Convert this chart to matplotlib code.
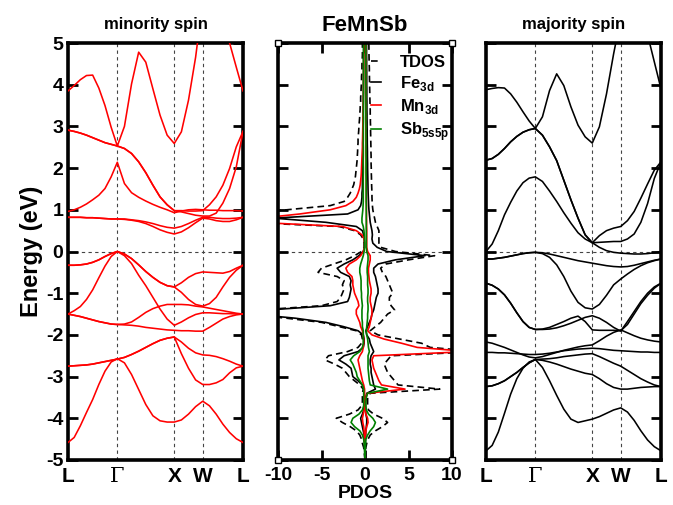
import numpy as np
import matplotlib
matplotlib.use("Agg")
from matplotlib import pyplot as plt

plt.rcParams['font.family'] = ['Liberation Sans', 'DejaVu Sans']
plt.rcParams['font.weight'] = 'bold'
plt.rcParams['mathtext.fontset'] = 'custom'
plt.rcParams['mathtext.rm'] = 'Liberation Sans:bold'
plt.rcParams['mathtext.bf'] = 'Liberation Sans:bold'

# high symmetry path L-G-X-W-L (2pi/a units) and k samples per segment
k_labels = ['L', 'Γ', 'X', 'W', 'L']
k_nodes = [0.0, 0.866, 1.866, 2.366, 3.073]
seg_points = [8, 8, 4, 6]

# minority spin bands (eV), 27 samples along the path
minority_bands = [
    [-4.58, -4.46, -4.18, -3.86, -3.55, -3.19, -2.87, -2.65, -2.57, -2.67, -2.95, -3.31, -3.67, -3.94, -4.06, -4.09, -4.09, -4.04, -3.9, -3.72, -3.59, -3.7, -3.9, -4.14, -4.34, -4.49, -4.58],
    [-2.75, -2.74, -2.73, -2.72, -2.7, -2.67, -2.64, -2.61, -2.58, -2.54, -2.47, -2.39, -2.3, -2.21, -2.13, -2.08, -2.05, -2.45, -2.8, -3.08, -3.19, -3.19, -3.15, -3.07, -2.91, -2.79, -2.75],
    [-2.75, -2.74, -2.73, -2.72, -2.7, -2.67, -2.64, -2.61, -2.58, -2.54, -2.47, -2.39, -2.3, -2.21, -2.13, -2.08, -2.05, -2.17, -2.32, -2.43, -2.48, -2.49, -2.52, -2.57, -2.63, -2.7, -2.75],
    [-0.33, -0.33, -0.32, -0.3, -0.26, -0.2, -0.12, -0.05, 0.0, -0.06, -0.17, -0.32, -0.48, -0.62, -0.74, -0.82, -0.85, -0.75, -0.62, -0.53, -0.49, -0.5, -0.51, -0.52, -0.48, -0.4, -0.33],
    [-0.33, -0.33, -0.32, -0.3, -0.26, -0.2, -0.12, -0.05, 0.0, -0.06, -0.17, -0.32, -0.48, -0.62, -0.74, -0.82, -0.85, -0.98, -1.15, -1.27, -1.31, -1.25, -1.1, -0.85, -0.62, -0.45, -0.33],
    [-1.5, -1.42, -1.32, -1.15, -0.92, -0.63, -0.35, -0.12, 0.0, -0.1, -0.29, -0.57, -0.82, -1.1, -1.38, -1.62, -1.77, -1.69, -1.59, -1.51, -1.47, -1.47, -1.48, -1.49, -1.49, -1.5, -1.5],
    [-1.5, -1.53, -1.56, -1.6, -1.64, -1.68, -1.71, -1.74, -1.75, -1.74, -1.69, -1.58, -1.46, -1.37, -1.31, -1.27, -1.27, -1.27, -1.28, -1.31, -1.33, -1.36, -1.39, -1.42, -1.45, -1.48, -1.5],
    [-1.5, -1.53, -1.56, -1.6, -1.64, -1.68, -1.71, -1.74, -1.75, -1.76, -1.77, -1.79, -1.82, -1.84, -1.86, -1.88, -1.89, -1.9, -1.9, -1.91, -1.91, -1.82, -1.72, -1.62, -1.56, -1.52, -1.5],
    [0.82, 0.82, 0.82, 0.81, 0.81, 0.8, 0.79, 0.78, 0.78, 0.77, 0.75, 0.72, 0.67, 0.6, 0.52, 0.46, 0.42, 0.47, 0.57, 0.69, 0.8, 0.78, 0.74, 0.72, 0.72, 0.76, 0.82],
    [0.82, 0.82, 0.82, 0.81, 0.81, 0.8, 0.79, 0.78, 0.78, 0.78, 0.76, 0.74, 0.71, 0.67, 0.62, 0.58, 0.56, 0.6, 0.67, 0.75, 0.82, 0.82, 0.8, 0.79, 0.79, 0.8, 0.82],
    [0.96, 1.0, 1.06, 1.14, 1.24, 1.35, 1.51, 1.79, 2.14, 1.63, 1.41, 1.3, 1.21, 1.13, 1.06, 1.0, 0.93, 0.97, 1.0, 1.01, 1.0, 0.99, 0.99, 0.98, 0.98, 0.98, 0.97],
    [2.91, 2.88, 2.84, 2.79, 2.73, 2.67, 2.61, 2.57, 2.53, 2.47, 2.35, 2.15, 1.89, 1.59, 1.31, 1.12, 0.98, 0.98, 0.97, 0.97, 0.98, 1.12, 1.31, 1.59, 1.99, 2.51, 2.88],
    [2.91, 2.88, 2.84, 2.79, 2.73, 2.67, 2.61, 2.57, 2.53, 2.47, 2.35, 2.15, 1.89, 1.59, 1.31, 1.12, 0.98, 0.95, 0.91, 0.87, 0.85, 0.85, 0.92, 1.16, 1.51, 2.03, 2.88],
    [3.85, 3.98, 4.12, 4.22, 4.23, 3.92, 3.5, 2.98, 2.53, 3.0, 4.02, 4.78, 4.54, 3.9, 3.27, 2.79, 2.59, 2.87, 3.63, 4.66, 6.0, 6.6, 6.6, 6.0, 5.0, 4.42, 3.85],
]

# majority spin bands
majority_bands = [
    [-4.78, -4.65, -4.33, -3.88, -3.42, -3.05, -2.8, -2.65, -2.59, -2.78, -3.1, -3.45, -3.78, -4.02, -4.1, -4.06, -4.02, -3.96, -3.88, -3.8, -3.75, -3.85, -4.05, -4.3, -4.52, -4.68, -4.78],
    [-3.24, -3.22, -3.17, -3.1, -3.0, -2.9, -2.78, -2.67, -2.59, -2.61, -2.65, -2.7, -2.76, -2.82, -2.87, -2.92, -2.95, -3.05, -3.17, -3.26, -3.3, -3.3, -3.28, -3.26, -3.25, -3.24, -3.24],
    [-3.24, -3.22, -3.17, -3.1, -3.0, -2.9, -2.78, -2.67, -2.59, -2.58, -2.57, -2.55, -2.52, -2.5, -2.48, -2.46, -2.45, -2.52, -2.6, -2.68, -2.75, -2.85, -2.95, -3.05, -3.13, -3.2, -3.24],
    [-2.42, -2.42, -2.43, -2.43, -2.44, -2.45, -2.46, -2.47, -2.47, -2.46, -2.44, -2.41, -2.38, -2.36, -2.34, -2.33, -2.32, -2.33, -2.35, -2.37, -2.38, -2.39, -2.4, -2.41, -2.41, -2.42, -2.42],
    [-2.17, -2.2, -2.25, -2.3, -2.36, -2.42, -2.48, -2.53, -2.55, -2.52, -2.47, -2.42, -2.37, -2.33, -2.29, -2.26, -2.24, -2.14, -2.03, -1.94, -1.88, -1.95, -2.02, -2.08, -2.12, -2.15, -2.17],
    [-0.76, -0.81, -0.9, -1.04, -1.24, -1.47, -1.68, -1.82, -1.87, -1.87, -1.86, -1.83, -1.78, -1.72, -1.65, -1.58, -1.54, -1.6, -1.7, -1.82, -1.91, -1.68, -1.44, -1.2, -1.0, -0.85, -0.76],
    [-0.76, -0.81, -0.9, -1.04, -1.24, -1.47, -1.68, -1.82, -1.87, -1.86, -1.82, -1.75, -1.68, -1.6, -1.55, -1.68, -1.88, -1.89, -1.89, -1.89, -1.9, -1.75, -1.5, -1.25, -1.05, -0.88, -0.76],
    [-0.18, -0.18, -0.16, -0.14, -0.11, -0.08, -0.05, -0.03, -0.02, -0.05, -0.14, -0.32, -0.6, -0.95, -1.22, -1.35, -1.38, -1.27, -1.05, -0.8, -0.66, -0.54, -0.43, -0.34, -0.27, -0.22, -0.18],
    [-0.18, -0.18, -0.16, -0.14, -0.11, -0.08, -0.05, -0.03, -0.02, -0.03, -0.06, -0.1, -0.14, -0.18, -0.22, -0.25, -0.28, -0.31, -0.34, -0.36, -0.37, -0.36, -0.33, -0.29, -0.25, -0.21, -0.18],
    [0.0, 0.18, 0.5, 0.88, 1.18, 1.45, 1.65, 1.76, 1.79, 1.68, 1.45, 1.2, 0.93, 0.68, 0.45, 0.3, 0.21, 0.1, 0.02, -0.02, -0.04, -0.05, -0.06, -0.06, -0.05, -0.03, 0.0],
    [2.19, 2.23, 2.33, 2.47, 2.63, 2.76, 2.86, 2.92, 2.95, 2.79, 2.51, 2.18, 1.71, 1.24, 0.8, 0.4, 0.21, 0.38, 0.5, 0.56, 0.6, 0.74, 0.96, 1.28, 1.62, 1.95, 2.15],
    [2.19, 2.23, 2.33, 2.47, 2.63, 2.76, 2.86, 2.92, 2.95, 2.79, 2.51, 2.18, 1.71, 1.24, 0.8, 0.4, 0.21, 0.22, 0.23, 0.24, 0.24, 0.3, 0.42, 0.7, 1.15, 1.75, 2.15],
    [3.88, 3.91, 3.93, 3.92, 3.78, 3.58, 3.35, 3.13, 2.95, 3.23, 3.86, 4.26, 3.98, 3.47, 3.03, 2.75, 2.6, 2.99, 3.78, 4.74, 5.6, 6.3, 6.5, 6.1, 5.2, 4.55, 3.9],
]

# PDOS, energy grid -5..5 eV in 0.1 steps (101 values each)
dos_energy = np.round(np.arange(-5.0, 5.01, 0.1), 2)

# minority (drawn to the left)
tdos_dn = [0.0, 0.05, 0.1, 0.15, 0.3, 0.4, 0.6, 1.0, 1.7, 2.6,
           3.3, 1.8, 0.8, 0.4, 0.3, 0.3, 0.3, 0.2, 0.6, 1.2,
           1.8, 2.2, 2.6, 3.5, 4.6, 4.2, 2.0, 0.8, 0.4, 0.3,
           0.4, 1.0, 3.0, 5.0, 9.0, 14, 12, 5.0, 3.2, 2.8,
           2.6, 2.4, 2.6, 2.4, 3.2, 5.4, 5.0, 3.6, 2.2, 1.2,
           0.4, 0.1, 0.1, 0.2, 0.5, 1.2, 3.0, 14, 14, 14,
           9.0, 4.0, 2.4, 2.0, 1.7, 1.5, 1.3, 1.2, 1.1, 1.05,
           1.0, 0.95, 0.9, 0.88, 0.85, 0.84, 0.8, 0.8, 0.76, 0.72,
           0.7, 0.66, 0.62, 0.6, 0.56, 0.55, 0.5, 0.5, 0.46, 0.45,
           0.42, 0.4, 0.4, 0.36, 0.35, 0.35, 0.32, 0.3, 0.3, 0.3, 0.3]
fe_dn = [0.0, 0.0, 0.02, 0.03, 0.05, 0.08, 0.1, 0.2, 0.3, 0.4,
         0.5, 0.3, 0.15, 0.1, 0.1, 0.1, 0.1, 0.1, 0.3, 0.8,
         1.4, 1.5, 1.6, 2.2, 3.0, 2.4, 0.8, 0.2, 0.1, 0.1,
         0.2, 0.8, 2.5, 4.5, 8.0, 13, 11, 4.0, 2.0, 1.8,
         1.7, 1.6, 1.7, 1.6, 1.8, 2.8, 3.2, 2.4, 1.4, 0.7,
         0.2, 0.05, 0.05, 0.1, 0.15, 0.3, 1.0, 4.5, 10.5, 2.0,
         0.8, 0.5, 0.4, 0.35, 0.35, 0.3, 0.3, 0.3, 0.28, 0.28,
         0.26, 0.26, 0.25, 0.25, 0.24, 0.24, 0.23, 0.23, 0.22, 0.22,
         0.21, 0.21, 0.2, 0.2, 0.2, 0.2, 0.19, 0.19, 0.18, 0.18,
         0.18, 0.17, 0.17, 0.17, 0.16, 0.16, 0.16, 0.15, 0.15, 0.15, 0.15]
mn_dn = [0.0, 0.0, 0.0, 0.02, 0.03, 0.05, 0.08, 0.1, 0.15, 0.25,
         0.3, 0.2, 0.1, 0.05, 0.05, 0.05, 0.05, 0.05, 0.15, 0.3,
         0.4, 0.5, 0.6, 0.7, 0.8, 0.6, 0.3, 0.2, 0.15, 0.15,
         0.2, 0.3, 0.5, 0.6, 0.8, 1.0, 1.0, 0.7, 0.8, 1.0,
         1.2, 1.3, 1.4, 1.4, 1.5, 2.0, 2.2, 1.8, 1.0, 0.5,
         0.2, 0.05, 0.05, 0.1, 0.35, 1.0, 2.6, 12.5, 12, 7.5,
         4.0, 2.2, 1.4, 1.0, 0.8, 0.65, 0.55, 0.5, 0.45, 0.42,
         0.4, 0.38, 0.36, 0.34, 0.32, 0.3, 0.3, 0.28, 0.27, 0.26,
         0.25, 0.24, 0.23, 0.22, 0.21, 0.2, 0.2, 0.19, 0.18, 0.18,
         0.17, 0.17, 0.16, 0.16, 0.15, 0.15, 0.15, 0.14, 0.14, 0.13, 0.13]
sb_dn = [0.02, 0.03, 0.05, 0.07, 0.1, 0.15, 0.3, 0.6, 1.2, 1.6,
         1.4, 0.7, 0.3, 0.15, 0.15, 0.15, 0.15, 0.15, 0.3, 0.6,
         0.9, 1.0, 1.2, 1.4, 1.7, 1.3, 0.6, 0.3, 0.2, 0.2,
         0.2, 0.2, 0.3, 0.3, 0.35, 0.35, 0.35, 0.3, 0.35, 0.4,
         0.4, 0.45, 0.45, 0.45, 0.5, 0.6, 0.6, 0.5, 0.35, 0.2,
         0.1, 0.05, 0.05, 0.05, 0.08, 0.12, 0.2, 0.35, 0.35, 0.3,
         0.25, 0.22, 0.2, 0.2, 0.2, 0.2, 0.2, 0.2, 0.2, 0.19,
         0.19, 0.2, 0.2, 0.19, 0.19, 0.19, 0.2, 0.19, 0.19, 0.19,
         0.19, 0.18, 0.18, 0.19, 0.18, 0.18, 0.18, 0.18, 0.18, 0.18,
         0.18, 0.18, 0.18, 0.17, 0.18, 0.18, 0.18, 0.18, 0.17, 0.17, 0.17]

# majority (drawn to the right)
tdos_up = [0.0, 0.02, 0.05, 0.1, 0.2, 0.35, 0.6, 1.2, 2.0, 2.6,
           2.0, 1.0, 0.4, 0.3, 0.3, 0.3, 0.6, 8.6, 3.8, 3.4,
           3.0, 2.6, 2.4, 2.2, 2.6, 3.0, 13, 7.5, 6.5, 4.0,
           1.5, 0.6, 1.2, 1.8, 2.2, 2.6, 3.4, 3.0, 2.8, 2.8,
           3.2, 3.0, 2.8, 2.6, 2.4, 2.0, 1.8, 2.4, 5.0, 8.0,
           3.5, 1.8, 1.6, 1.6, 1.6, 1.6, 1.4, 1.2, 1.1, 1.0,
           0.9, 0.85, 0.82, 0.8, 0.8, 0.78, 0.76, 0.75, 0.74, 0.72,
           0.72, 0.7, 0.7, 0.7, 0.68, 0.68, 0.67, 0.66, 0.65, 0.64,
           0.64, 0.62, 0.62, 0.6, 0.6, 0.58, 0.57, 0.56, 0.55, 0.54,
           0.53, 0.52, 0.51, 0.5, 0.5, 0.48, 0.47, 0.46, 0.45, 0.45, 0.44]
fe_up = [0.0, 0.0, 0.0, 0.02, 0.03, 0.05, 0.08, 0.1, 0.15, 0.2,
         0.2, 0.1, 0.05, 0.05, 0.05, 0.08, 0.2, 1.2, 1.0, 0.9,
         0.8, 0.7, 0.7, 0.6, 0.6, 0.7, 1.0, 0.8, 0.6, 0.5,
         0.2, 0.1, 0.3, 0.5, 0.7, 0.8, 1.0, 1.1, 1.2, 1.3,
         1.5, 1.5, 1.4, 1.3, 1.2, 1.0, 1.0, 1.5, 3.5, 6.9,
         2.5, 1.4, 0.9, 0.8, 0.85, 0.8, 0.7, 0.6, 0.55, 0.5,
         0.45, 0.42, 0.4, 0.38, 0.36, 0.35, 0.34, 0.33, 0.32, 0.31,
         0.3, 0.3, 0.29, 0.28, 0.28, 0.27, 0.26, 0.26, 0.25, 0.25,
         0.24, 0.24, 0.23, 0.23, 0.22, 0.22, 0.22, 0.21, 0.21, 0.21,
         0.2, 0.2, 0.2, 0.2, 0.19, 0.19, 0.19, 0.18, 0.18, 0.18, 0.18]
mn_up = [0.0, 0.0, 0.0, 0.01, 0.02, 0.03, 0.05, 0.1, 0.2, 0.35,
         0.3, 0.1, 0.05, 0.05, 0.05, 0.1, 0.3, 4.6, 1.9, 1.6,
         1.4, 1.2, 1.0, 0.9, 0.8, 1.0, 12, 6.0, 4.2, 2.2,
         0.8, 0.3, 0.5, 0.6, 0.7, 0.8, 0.8, 0.7, 0.6, 0.6,
         0.7, 0.7, 0.6, 0.5, 0.45, 0.4, 0.4, 0.5, 0.6, 0.6,
         0.3, 0.2, 0.2, 0.2, 0.2, 0.2, 0.18, 0.18, 0.17, 0.17,
         0.16, 0.16, 0.15, 0.15, 0.15, 0.14, 0.14, 0.14, 0.14, 0.13,
         0.13, 0.13, 0.13, 0.12, 0.12, 0.12, 0.12, 0.12, 0.11, 0.11,
         0.11, 0.11, 0.11, 0.1, 0.1, 0.1, 0.1, 0.1, 0.1, 0.1,
         0.1, 0.1, 0.1, 0.1, 0.1, 0.1, 0.1, 0.1, 0.1, 0.1, 0.1]
sb_up = [0.0, 0.01, 0.02, 0.04, 0.06, 0.1, 0.3, 0.6, 1.0, 1.2,
         0.9, 0.4, 0.15, 0.1, 0.1, 0.15, 0.3, 2.6, 0.6, 0.5,
         0.45, 0.4, 0.35, 0.35, 0.35, 0.35, 0.5, 0.4, 0.35, 0.3,
         0.2, 0.15, 0.2, 0.25, 0.3, 0.3, 0.35, 0.35, 0.3, 0.3,
         0.35, 0.35, 0.3, 0.3, 0.3, 0.25, 0.25, 0.3, 0.35, 0.35,
         0.2, 0.15, 0.15, 0.15, 0.15, 0.15, 0.15, 0.15, 0.15, 0.15,
         0.15, 0.15, 0.14, 0.14, 0.14, 0.14, 0.14, 0.14, 0.13, 0.13,
         0.13, 0.13, 0.13, 0.13, 0.12, 0.12, 0.12, 0.12, 0.12, 0.12,
         0.12, 0.12, 0.11, 0.11, 0.11, 0.11, 0.11, 0.11, 0.11, 0.11,
         0.1, 0.1, 0.1, 0.1, 0.1, 0.1, 0.1, 0.1, 0.1, 0.1, 0.1]

dos_ticks = [-10, -5, 0, 5, 10]
e_ticks = [-5, -4, -3, -2, -1, 0, 1, 2, 3, 4, 5]


# k axis built from the path nodes
kpath = [0.0]
for i, n in enumerate(seg_points):
    kpath += list(np.linspace(k_nodes[i], k_nodes[i + 1], n + 1)[1:])
kpath = np.array(kpath)

grid_col = '#444444'

def frame(ax):
    for s in ax.spines.values():
        s.set_linewidth(2.6)
    ax.set_ylim(-5, 5)
    ax.set_yticks(e_ticks)
    ax.tick_params(axis='y', direction='in', length=7, width=2, left=True, right=True)
    ax.axhline(0, color=grid_col, lw=0.8, ls=(0, (3, 3)), zorder=1)

def bands(ax, data, color, title):
    frame(ax)
    for b in data:
        ax.plot(kpath, b, color=color, lw=1.15, zorder=3)
    for kn in k_nodes[1:-1]:
        ax.axvline(kn, color=grid_col, lw=0.8, ls=(0, (3, 3)), zorder=1)
    ax.set_xlim(k_nodes[0], k_nodes[-1])
    ax.set_xticks(k_nodes)
    ax.set_xticklabels(k_labels, fontsize=15, fontweight='bold')
    ax.tick_params(axis='x', length=0, pad=5)
    # Gamma in a serif face like the original
    ax.get_xticklabels()[1].set_fontfamily('DejaVu Serif')
    ax.get_xticklabels()[1].set_fontweight('normal')
    ax.set_title(title, fontsize=12, fontweight='bold', pad=10)


fig = plt.figure(figsize=(6.73, 5.05), dpi=100)
ax1 = fig.add_axes([68 / 673, 45 / 505, 175 / 673, 417 / 505])
ax2 = fig.add_axes([278 / 673, 45 / 505, 174 / 673, 417 / 505])
ax3 = fig.add_axes([486 / 673, 45 / 505, 175 / 673, 417 / 505])

bands(ax1, minority_bands, '#ff0000', 'minority spin')
ax1.set_yticklabels([str(t) for t in e_ticks], fontsize=14, fontweight='bold')
ax1.set_ylabel('Energy (eV)', fontsize=17, fontweight='bold', labelpad=2)

bands(ax3, majority_bands, 'black', 'majority spin')
ax3.set_yticklabels([])

# PDOS panel, minority to the left
frame(ax2)
ax2.plot(-np.array(tdos_dn), dos_energy, color='black', lw=1.2, ls=(0, (4, 2.5)), label='TDOS')
ax2.plot(np.array(tdos_up), dos_energy, color='black', lw=1.2, ls=(0, (4, 2.5)))
ax2.plot(-np.array(fe_dn), dos_energy, color='black', lw=1.2, label=r'Fe$_{\mathbf{3d}}$')
ax2.plot(np.array(fe_up), dos_energy, color='black', lw=1.2)
ax2.plot(-np.array(mn_dn), dos_energy, color='#ff0000', lw=1.2, label=r'Mn$_{\mathbf{3d}}$')
ax2.plot(np.array(mn_up), dos_energy, color='#ff0000', lw=1.2)
ax2.plot(-np.array(sb_dn), dos_energy, color='#008000', lw=1.2, label=r'Sb$_{\mathbf{5s5p}}$')
ax2.plot(np.array(sb_up), dos_energy, color='#008000', lw=1.2)
ax2.set_xlim(-10, 10)
ax2.set_xticks(dos_ticks)
ax2.set_xticklabels([str(t) for t in dos_ticks], fontsize=14, fontweight='bold')
ax2.tick_params(axis='x', direction='in', length=7, width=2, top=True, bottom=True, pad=5)
ax2.set_yticklabels([])
ax2.set_xlabel('PDOS', fontsize=14, fontweight='bold', labelpad=1)
ax2.set_title('FeMnSb', fontsize=16, fontweight='bold', pad=9)
# little squares grace leaves at the corners
ax2.plot([0, 1, 0, 1], [0, 0, 1, 1], 's', transform=ax2.transAxes, ms=4,
         mfc='white', mec='black', mew=1, clip_on=False, zorder=6)
leg = ax2.legend(loc='upper left', bbox_to_anchor=(0.47, 1.0), frameon=False,
                 handlelength=0.6, handletextpad=1.1, labelspacing=0.25,
                 fontsize=12, borderaxespad=0.3)

plt.savefig('out.png', dpi=100)
